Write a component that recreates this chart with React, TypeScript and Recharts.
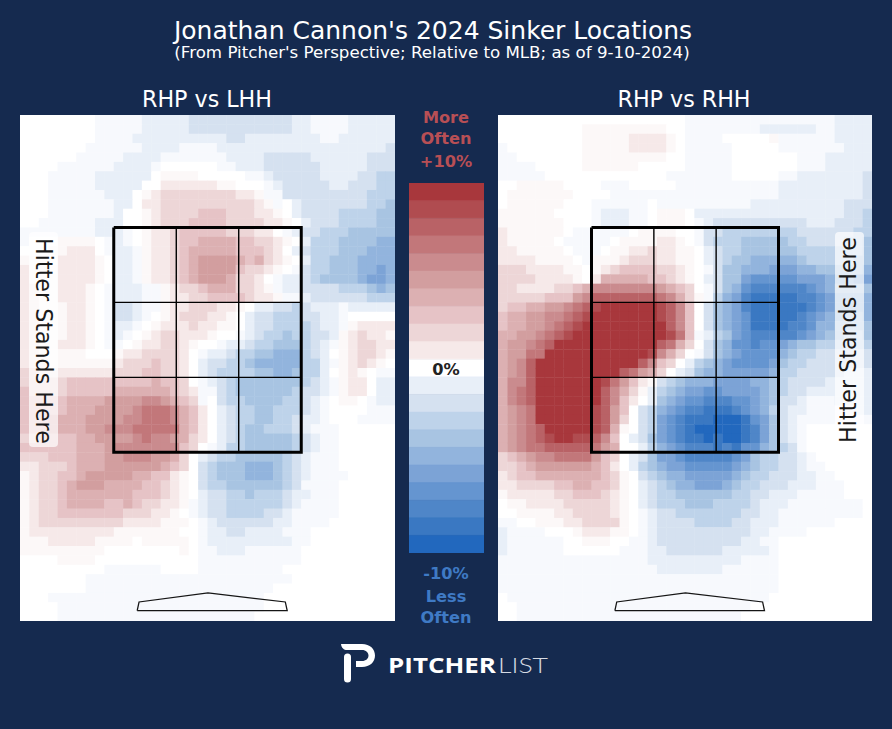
import React from "react";
import { ScatterChart, Scatter, XAxis, YAxis, BarChart, Bar, Cell } from "recharts";

const TITLE = "Jonathan Cannon's 2024 Sinker Locations";
const SUBTITLE = "(From Pitcher's Perspective; Relative to MLB; as of 9-10-2024)";
const LEFT_TITLE = "RHP vs LHH";
const RIGHT_TITLE = "RHP vs RHH";
const HITTER_LABEL = "Hitter Stands Here";

const NAVY = "#152A4F";
const SCALE_COLORS = [
  "#A8373C", "#B04C50", "#B96266", "#C2777A", "#CA8B8E", "#D29E9F", "#DCB0B2", "#E6C3C6", "#EDD6D7", "#F6E9E9",
  "#FFFFFF",
  "#E8EFF8", "#D5E1F0", "#BED3EA", "#A8C4E2", "#92B4DD", "#7CA3D6", "#6595D0", "#4F86C8", "#3A78C2", "#2268BE",
];
const SCALE_VALUES = [10, 9, 8, 7, 6, 5, 4, 3, 2, 1, 0, -1, -2, -3, -4, -5, -6, -7, -8, -9, -10];

// level codes: . = 0, ' = +0.5, , = -0.5, a..j = +1..+10, A..J = -1..-10
const LEFT_ROWS = [
  "........,, ,,,AAAAABB BBBBBBBBBA A,,,,AAAAA",
  "........,, ,,,AAAAABB BBBBBBBBBA A,,,,AAAAA",
  "........,, ,,AAAAAAAA AABBAAAAAA AA,,AAAAAA",
  ".......,,, ,,,AAAA,,, ,AAAAAAAAA AAAAAAAAAB",
  "......,,,, ,AAAA,,,,, ,,AAAABBBB BAAAAAABBB",
  "....,,,,,, AAAA,..... .,,AAABBBB BBAAAAABBB",
  "...,,,,,AA AAAA.''''. ....,,ABBB BBAAAABBCC",
  "...,,,,,AA AAA..aaaaa a''...,ABB BBBAABBBCC",
  "...,,,,,,A AA.'abbbbb bbbaa',,BB BBBBBBBCCC",
  "...,,,,,,, AA.aabbbbb bbbbba',.A BBBBBBBCCD",
  "...,,,,,,, A..'abbbbc ccbbbaa'.A BBBBCCCCDD",
  "..,,,,,,AA A..'abbbcc ccbbbbaa'. ABBBCCCCDD",
  ",,,,,,,,AA A,.'aabccc ccbbbaa.,A BBCCCDDDDD",
  ",...''''., A,.'aabccd dddccbba'. ACCCDDDDEE",
  "...''aaa., AA,'aabcdd dddcccba.A BCCCDDDEEE",
  "'''.aaaa'. AA,'aabcde eeedcdba'. ACCDDDEEEE",
  "a'''aaaa'. AA,'aabcde eeecbba'., BCCDDDEEFE",
  "a'''aaaa'. AA,'aabcde eedbba.,AA BCDDDDEFFE",
  "aa''aaa'., AAA,,'abbc dddbba',AA BBBBCCCDED",
  "aa''aaa'., AAA,,'aabb ccccbaa',, ABBBBBBCCC",
  "aa'''aa'., BBA,,'aabb baa'.AABBC BAAA,AAAAA",
  "aa'''aa'., BBA,.'abbb aa'.ABBCCC BBAA,.....",
  "aa'''aa'., AA,.'aaaba a''.ABBCCC CBAA,'aaaa",
  "aa'''aa'., A,.'abbaaa '..,ABCCDC CBBA'abaa'",
  "aa''aaa'., ,.'aabba'. .,AABCCDDD CBA,'abbaa",
  "aa'''''... 'aabbbba., AABCCDDEEE CBA.'abba'",
  "aaa''''''' abbbcbba.A BBCCDEEEEE CCA,'aba'.",
  "bbaaaaaaaa bbbccbba.A BCCCCDDEED CCA.'a'.,,",
  "bbbbbccccc ccccdccb., ABCDDDDDDD CBA,'aa.AA",
  "cbbbbccccc ddddddcba, ,BCDDDDDDC BBA,'aa.AA",
  "cccccdddde eeeffedcb, .BCCDDDDCC BA,.''.,AA",
  "cccccdddee eefgggfdca .ABCCDDCCC BA,....,,,",
  "cccddddeee effgggfdca .ABCCDDCCB AA,...,,,,",
  "cccddddeef ffgggggdca .ABCDDCCCB A,,,......",
  "bbccccddee eefgffedba .ABCDDDDDC BA,,......",
  "ccccccddde fffffffcb. ,ACCDDDDDC BA,,......",
  "bbbcccddde efffeedb.A BCCDDDDDCB A,,,......",
  "aabbbcddde eeeeedcb.B CDDDEEEDCB A,,,......",
  "'abbccdeee eeddcca'.B CDDDEEEDCB A,,,,.....",
  "'abbcdeeed dddccba'.B CCDDDDDDCB ,,,,......",
  "'abbcddddd ddcccba'.A BBCCDCCCBA A,,,......",
  "'abbcddddc cdcbbaa',A BBCCCCCCBA ,,,,......",
  "'abbcccccc cbbbaa'.,A BBCCCCBBA, ,,,,......",
  "'abbbbbbbb baaaa'''., ABBBBBBAA, ,,,.......",
  "'aaaaaaaaa '''''''.., AABBAAAA,, ,.........",
  "'''aaaaa'' ''.'''''., AAAAAAAAA, ,.........",
  "'''''''''. .......'., ,AAA,,,,,, ..........",
  "....''''.. ........., ,,,,,,,,,, ..........",
  "........., ,,,,,...., ,,,,,,,,.. ..........",
  ".......,,, ,,,,,,,,,, ,,,,,,,,,. ..........",
  ".......,,, ,,,,,,,,,, ,,,,,,,... ..........",
  "...,,,,,,, ,,,,,,,,,, ,,,,,,.... ..........",
  "....,,,,,, ,,,,,,,,,, ,,,,,,.... ..........",
  "....,,,,,, ,,,,,,,,,, ,,,,,..... ..........",
];

const RIGHT_ROWS = [
  ".......... .......... ,,,,,,,,,, ,,,,,,AAAA",
  ".........' ''''''''.. ,,,,,,,,AA AAAA,,AAAA",
  ".........' ''''aaaa'. ,,,,.....' ,,,,,,AAAA",
  ",........' ''''aaaa'. ,,,,,..... ,,,,,,,AAA",
  ",,.......' ''''''''.. ,,,,,..... ..,,,AAAAA",
  ",,,,.....' '''''..... ,,,,,..... ..,,,AAAAA",
  ",,,,,..... ........,, ,,,,,..... ,,AAAAAAAB",
  "..'''''... .,,,....., ,,,,,,,,,, AAAAAAAAAB",
  ".'''''''.. ..,,,,,,,, ,,,,,,,,,, AAAAAAAAAB",
  ".''''''... ,,,,,,.,,, ,,,,,,,AAA AAAAAAABBB",
  "''''''.... ,AAA,,.''' .AAAAAAAAA AAAAAAABBC",
  "'''''''... ,AAA,,.''' .,ABBBBBBB BBBAAABBBC",
  "a''''''.,, ,,,,.''''. .,BBCCCCCC CCBBBBBBCC",
  "a'''''.,,, ,,.''''aa' .,BCCCDDDD DCCBBBBCCD",
  "aa'''''.,, ,.''aabaa' '.ABCCDDDD DDCCCCCCCD",
  "aaaa''''., '''abbbaa' '.ABCDDEEE EEDCCCCCDD",
  "bbbaaaa''. 'abccccbba '.,BDDEEEF FFEEDDDDDE",
  "bbbbaaaa'. adddddccba '.ABDDFGGG GGFFFEEEFF",
  "bbaaaabbcd fffffffedc b.,BDEGHHH HHHGFEDDDD",
  "bbbbbcccef hhhhhhhgfd b',CEFHIII IIHHGFEEEE",
  "bccddeefgh ijjjjjjihf c.BDEFHIII IIIHGFEEEE",
  "cddeeffghi jjjjjjjihf c.BDEFGIII IIHGFEEDDE",
  "cddeefghij jjjjjjjjhf c.BDEFGIII IHHGEEDDDD",
  "ddeefghijj jjjjjjjjig c,ACDFGHHH HHGFEDDCCD",
  "deefghjjjj jjjjjjjhgd b.BDEGGHGG FEDDCCCCCC",
  "deeggjjjjj jjjjjjifdb .,BDEFGGGG EDCCBBBBBB",
  "defhjjjjjj jjjjjhfcb. ACDEFGGGGF DCCBBBBBBB",
  "defhjjjjjj jjjhgedb.A BDEEFFFFFE CCBBBBBAAA",
  "dffhjjjjjj jigeca'BCD EEEFFFFEED CBBBBAAAAA",
  "dfghjjjjjj jhfdb'ACDE FFGGFFFFED CBBAAAAAAA",
  "dfghjjjjjj jhfca.ADEF GGHHHGGFED BBA,,,AAAA",
  "defgjjjjjj ihec.BCEFG HHIIIHGFEC BAA,,,,,AA",
  "defgjjjjjj iheb.BCFGH IIIJJJIGFD BA,,,,,,,,",
  "defghjjjjj ihd'.BCFGH IJJJJJIHFD BA,.......",
  "defghijjii hfc.ABDFGH IIJIJJIHFD BA,.......",
  "defgghhhhh ged..ACEFG HHHIHIGGED CB,.......",
  "bcdeffgggg ecb.ABDFFG HHHHHGFDCC BBA,......",
  "bbcdeeeeee dca.ACDEFF GGGGGFEDCC BBA,,.....",
  "abccdddddd dcb'.BCDEE FFFFFEDCCB BBAA,,....",
  "aabbbbccdd ccb'.ABCDE EFFFEDCCBB BAAA,,,...",
  "'aaaaabbcc cba'.ABCCD DDDDDCCBBA AA,,,,,...",
  ".''aaaabbb bba'.ABCCC DDDCCCCBAA A,,,,,,,,.",
  "..''''aabb bba'.,ABBC CCCCCCBBAA ,,,,,,,,,.",
  ",,..'''aab bbb'.,ABBB BCCCCBBAAA ,,,,,,....",
  "A,,,,...'a aa''.,ABBB BBBBBBBAA, ,,,.......",
  "A,,,,,,..' ''..,,ABBB BBBBBBAA,, ..........",
  "A,,,,,,... ...,,,AABB BBBBAAAAA, ..........",
  ",,,,,,,,,, ,,,,,,AAAA AAAAAA,,,, ..........",
  ",,,,,,,,,, ,,,,,,,AAA AAAA,,,,,, ..........",
  ",,,,,,,,,, ,,,,,,,,,, ,,,,,,,,,, ..........",
  ",,,,,,,,,, ,,,,,,,,,, ,,,,,,,,,, ..........",
  ".,,,,,,,,, ,,,,,,,,,, ,,,,,,,,,. ..........",
  "..,,,,,,,, ,,,,,,,,,, ,,,,,,,... ..........",
  "..,,,,,,,, ,,,,,,,,,, ,,,,,,.... ..........",
];

const ZONE_X = [10, 16.67, 23.33, 30];
const ZONE_Y = [12, 20, 28, 36];
const PLATE_X = [12.5, 12.7, 20.05, 28.3, 28.5, 12.5];
const PLATE_Y = [52.9, 51.97, 51, 51.97, 52.9, 52.9];

const COLS = 40;
const ROWS = 54;

const levelOf = (ch: string): number => {
  if (ch === "'") return 0.5;
  if (ch === ",") return -0.5;
  const code = ch.charCodeAt(0);
  if (code >= 97 && code <= 106) return code - 96;
  if (code >= 65 && code <= 74) return -(code - 64);
  return 0;
};

const colorOf = (v: number): string => {
  if (v === 0.5) return "#FCF8F8";
  if (v === -0.5) return "#F7F9FD";
  return SCALE_COLORS[SCALE_VALUES.indexOf(v)];
};

const toCells = (rows: string[]) =>
  rows.flatMap((row, r) =>
    row.replace(/ /g, "").split("").map((ch, c) => ({ x: c + 0.5, y: r + 0.5, value: levelOf(ch) }))
  );

const plateData = PLATE_X.map((x, i) => ({ x, y: PLATE_Y[i] }));
const zoneOutline = [
  { x: ZONE_X[0], y: ZONE_Y[0] },
  { x: ZONE_X[3], y: ZONE_Y[0] },
  { x: ZONE_X[3], y: ZONE_Y[3] },
  { x: ZONE_X[0], y: ZONE_Y[3] },
  { x: ZONE_X[0], y: ZONE_Y[0] },
];
const zoneInner = [
  [{ x: ZONE_X[1], y: ZONE_Y[0] }, { x: ZONE_X[1], y: ZONE_Y[3] }],
  [{ x: ZONE_X[2], y: ZONE_Y[0] }, { x: ZONE_X[2], y: ZONE_Y[3] }],
  [{ x: ZONE_X[0], y: ZONE_Y[1] }, { x: ZONE_X[3], y: ZONE_Y[1] }],
  [{ x: ZONE_X[0], y: ZONE_Y[2] }, { x: ZONE_X[3], y: ZONE_Y[2] }],
];

const NoPoint = () => <g />;

function Panel({ rows, left, width }: { rows: string[]; left: number; width: number }) {
  const cells = toCells(rows);
  const w = width / COLS;
  const h = 506 / ROWS;
  const CellShape = (p: any) => (
    <rect x={p.cx - w / 2} y={p.cy - h / 2} width={w + 0.4} height={h + 0.4} fill={colorOf(p.payload.value)} />
  );
  return (
    <div style={{ position: "absolute", left, top: 115 }}>
      <ScatterChart width={width} height={506} margin={{ top: 0, right: 0, bottom: 0, left: 0 }} style={{ background: "#fff" }}>
        <XAxis type="number" dataKey="x" domain={[0, COLS]} hide />
        <YAxis type="number" dataKey="y" domain={[0, ROWS]} reversed hide />
        <Scatter data={cells} shape={CellShape} isAnimationActive={false} />
        <Scatter data={plateData} line={{ stroke: "#151515", strokeWidth: 1.3 }} shape={NoPoint} isAnimationActive={false} />
        {zoneInner.map((seg, i) => (
          <Scatter key={i} data={seg} line={{ stroke: "#000", strokeWidth: 1.4 }} shape={NoPoint} isAnimationActive={false} />
        ))}
        <Scatter data={zoneOutline} line={{ stroke: "#000", strokeWidth: 3 }} shape={NoPoint} isAnimationActive={false} />
      </ScatterChart>
    </div>
  );
}

const scaleData = SCALE_VALUES.map((v) => ({ label: String(v), size: 1 }));

function ColorBar() {
  return (
    <div style={{ position: "absolute", left: 409, top: 183 }}>
      <BarChart width={75} height={370} layout="vertical" data={scaleData} barCategoryGap={0} margin={{ top: 0, right: 0, bottom: 0, left: 0 }}>
        <XAxis type="number" domain={[0, 1]} hide />
        <YAxis type="category" dataKey="label" hide />
        <Bar dataKey="size" isAnimationActive={false}>
          {SCALE_COLORS.map((c, i) => (
            <Cell key={i} fill={c} stroke={c} strokeWidth={0.5} />
          ))}
        </Bar>
      </BarChart>
    </div>
  );
}

const SANS = "'DejaVu Sans', sans-serif";

function Overlay() {
  const mid = (t: string, x: number, y: number, size: number, fill: string, bold = false) => (
    <text x={x} y={y} textAnchor="middle" fontSize={size} fill={fill} fontWeight={bold ? 700 : 400} fontFamily={SANS}>
      {t}
    </text>
  );
  const red = "#B84F55";
  const blue = "#3F7AC5";
  return (
    <svg width={892} height={729} style={{ position: "absolute", left: 0, top: 0, pointerEvents: "none" }}>
      {mid(TITLE, 433, 39, 25, "#fff")}
      {mid(SUBTITLE, 432, 58, 16.67, "#fff")}
      {mid(LEFT_TITLE, 207, 107, 22.2, "#fff")}
      {mid(RIGHT_TITLE, 684, 107, 22.2, "#fff")}
      {mid("More", 446, 123, 16.2, red, true)}
      {mid("Often", 446, 144, 16.2, red, true)}
      {mid("+10%", 446, 167, 16.2, red, true)}
      {mid("0%", 446, 375, 16.2, "#222", true)}
      {mid("-10%", 446, 579, 16.2, blue, true)}
      {mid("Less", 446, 602, 16.2, blue, true)}
      {mid("Often", 446, 623, 16.2, blue, true)}

      <rect x={29} y={232} width={29} height={215} rx={4} fill="#fff" fillOpacity={0.7} />
      <rect x={835} y={232} width={29} height={215} rx={4} fill="#fff" fillOpacity={0.7} />
      <text transform="translate(36,341) rotate(90)" textAnchor="middle" fontSize={22.2} fill="#1a1a1a" fontFamily={SANS}>
        {HITTER_LABEL}
      </text>
      <text transform="translate(856,340) rotate(-90)" textAnchor="middle" fontSize={22.2} fill="#1a1a1a" fontFamily={SANS}>
        {HITTER_LABEL}
      </text>

      <path
        d="M341 644 H362 C370 644 375 649 375 655.5 C375 662 370 667 362 667 H356 V661 H362 C366 661 368.5 658.5 368.5 655.5 C368.5 652.5 366 650 362 650 H347 C344 650 341.5 648 341 644 Z"
        fill="#fff"
      />
      <line x1={347.5} y1={657} x2={347.5} y2={679} stroke="#fff" strokeWidth={7} strokeLinecap="round" />
      <text x={388} y={673} fontSize={22} fontWeight={700} fill="#fff" fontFamily="'Open Sans', sans-serif" textLength={108} lengthAdjust="spacingAndGlyphs">
        PITCHER
      </text>
      <text x={498} y={673} fontSize={22} fontWeight={300} fill="#D5DAE3" fontFamily="Lato, sans-serif" textLength={50} lengthAdjust="spacingAndGlyphs">
        LIST
      </text>
    </svg>
  );
}

export default function App() {
  return (
    <div style={{ position: "relative", width: 892, height: 729, background: NAVY, overflow: "hidden" }}>
      <style>{"html,body{margin:0;padding:0;background:" + NAVY + "}"}</style>
      <Panel rows={LEFT_ROWS} left={20} width={375} />
      <Panel rows={RIGHT_ROWS} left={498} width={374} />
      <ColorBar />
      <Overlay />
    </div>
  );
}
